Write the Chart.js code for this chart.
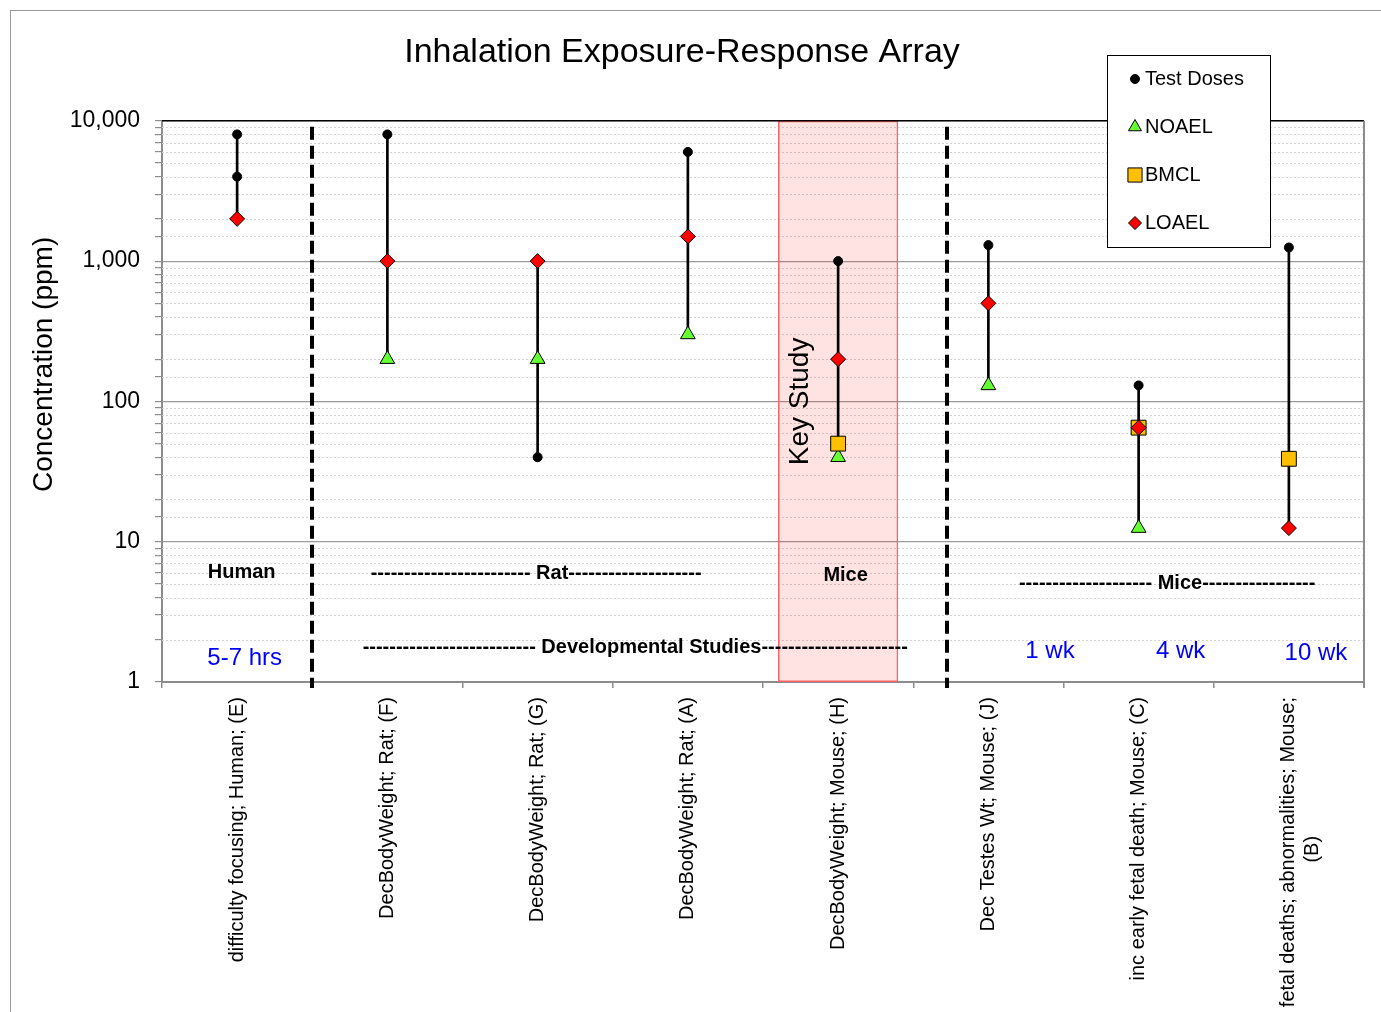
<!DOCTYPE html>
<html><head><meta charset="utf-8">
<script src="https://cdn.jsdelivr.net/npm/chart.js@4"></script>
<style>html,body{margin:0;padding:0;background:#fff;}canvas{display:block;}</style>
</head><body>
<canvas id="c" width="1381" height="1012"></canvas>
<script>
// ---------------- data ----------------
const categories = [
  'difficulty focusing; Human; (E)',
  'DecBodyWeight; Rat; (F)',
  'DecBodyWeight; Rat; (G)',
  'DecBodyWeight; Rat; (A)',
  'DecBodyWeight; Mouse; (H)',
  'Dec Testes Wt; Mouse; (J)',
  'inc early fetal death; Mouse; (C)',
  'fetal deaths; abnormalities; Mouse; (B)'
];
const testDoses = [[8000, 4000], [8000], [40], [6000], [1000], [1300], [130], [1250]];
const noael = [null, 200, 200, 300, 40, 130, 12.5, null];
const bmcl  = [null, null, null, null, 50, null, 65, 39];
const loael = [2000, 1000, 1000, 1500, 200, 500, 65, 12.5];
const keyStudyCategory = 4;
const yTickValues = [1, 10, 100, 1000, 10000];
const seriesNames = ['Test Doses', 'NOAEL', 'BMCL', 'LOAEL'];
const groupNotes = [
  {text: 'Human', x: 0.03, y: 6},
  {text: '------------------------ Rat--------------------', x: 1.99, y: 5.9},
  {text: 'Mice', x: 4.05, y: 5.7},
  {text: '-------------------- Mice-----------------', x: 6.19, y: 5.07},
  {text: '-------------------------- Developmental Studies----------------------', x: 2.65, y: 1.77}
];
const durationNotes = [
  {text: '5-7 hrs', x: 0.05, y: 1.48},
  {text: '1 wk', x: 5.41, y: 1.64},
  {text: '4 wk', x: 6.28, y: 1.66},
  {text: '10 wk', x: 7.18, y: 1.61}
];
const separatorsAt = [0.5, 4.725];

// ---------------- build ----------------
const FONT = "'Liberation Sans', Arial, Helvetica, sans-serif";
const isMajor = v => Math.abs(Math.log10(v) - Math.round(Math.log10(v))) < 1e-9;
const yMin = yTickValues[0], yMax = yTickValues[yTickValues.length - 1];

const ranges = categories.map((c, i) => {
  const vals = [...testDoses[i], noael[i], bmcl[i], loael[i]].filter(v => v != null);
  return [Math.min(...vals), Math.max(...vals)];
});
const keyData = categories.map((c, i) => i === keyStudyCategory ? [yMin, yMax] : null);
const toPts = arr => arr.map((v, i) => v == null ? null : {x: categories[i], y: v}).filter(Boolean);
const testPts = testDoses.flatMap((arr, i) => arr.map(v => ({x: categories[i], y: v})));

const styles = {
  'Test Doses': {pointStyle: 'circle', radius: 4.5, bg: '#000000', border: '#000000', bw: 1},
  'NOAEL': {pointStyle: 'triangle', radius: 8.5, bg: '#66FF33', border: '#000000', bw: 1},
  'BMCL': {pointStyle: 'rect', radius: 10.5, bg: '#FFC000', border: '#000000', bw: 1},
  'LOAEL': {pointStyle: 'rectRot', radius: 7.5, bg: '#FF0000', border: '#000000', bw: 1}
};
const pointDataset = (name, data, order) => ({
  type: 'line', label: name, data, showLine: false, order,
  pointStyle: styles[name].pointStyle, pointRadius: styles[name].radius,
  pointBackgroundColor: styles[name].bg, pointBorderColor: styles[name].border,
  pointBorderWidth: styles[name].bw, pointHoverRadius: styles[name].radius
});

function drawMarker(ctx, style, x, y, r) {
  ctx.beginPath();
  if (style === 'circle') ctx.arc(x, y, r, 0, Math.PI * 2);
  else if (style === 'triangle') {
    ctx.moveTo(x, y - r); ctx.lineTo(x + r * 0.866, y + r * 0.5); ctx.lineTo(x - r * 0.866, y + r * 0.5); ctx.closePath();
  } else if (style === 'rect') { const s = r * Math.SQRT1_2; ctx.rect(x - s, y - s, 2 * s, 2 * s); }
  else if (style === 'rectRot') { ctx.moveTo(x - r, y); ctx.lineTo(x, y + r); ctx.lineTo(x + r, y); ctx.lineTo(x, y - r); ctx.closePath(); }
  ctx.fill(); ctx.stroke();
}

const annotations = {
  id: 'annotations',
  beforeDatasetsDraw(chart) {
    const {ctx, chartArea: a, scales: {y}} = chart;
    ctx.save();
    ctx.strokeStyle = '#d2d2d2'; ctx.lineWidth = 1; ctx.setLineDash([2, 2]);
    y.ticks.forEach(t => {
      if (!isMajor(t.value)) {
        const py = Math.round(y.getPixelForValue(t.value)) + 0.5;
        ctx.beginPath(); ctx.moveTo(a.left, py); ctx.lineTo(a.right, py); ctx.stroke();
      }
    });
    ctx.restore();
  },
  afterDatasetsDraw(chart) {
    const {ctx, chartArea: a, scales: {x, y}} = chart;
    const step = x.getPixelForValue(1) - x.getPixelForValue(0);
    const px = v => x.getPixelForValue(0) + v * step;
    ctx.save();
    // plot borders
    ctx.strokeStyle = '#000'; ctx.lineWidth = 1.5;
    ctx.beginPath(); ctx.moveTo(a.left, a.top); ctx.lineTo(a.right, a.top); ctx.stroke();
    ctx.strokeStyle = '#8c8c8c'; ctx.lineWidth = 2;
    ctx.beginPath(); ctx.moveTo(a.right, a.top); ctx.lineTo(a.right, a.bottom + 6); ctx.stroke();
    // separators
    ctx.strokeStyle = '#000'; ctx.lineWidth = 4; ctx.setLineDash([13, 6]);
    separatorsAt.forEach(s => {
      const sx = Math.round(px(s));
      ctx.beginPath(); ctx.moveTo(sx, a.top + 6); ctx.lineTo(sx, a.bottom + 6); ctx.stroke();
    });
    ctx.setLineDash([]);
    // notes
    ctx.textAlign = 'center'; ctx.textBaseline = 'middle';
    ctx.fillStyle = '#000'; ctx.font = 'bold 20px ' + FONT;
    groupNotes.forEach(n => ctx.fillText(n.text, px(n.x), y.getPixelForValue(n.y)));
    ctx.fillStyle = '#0000FF'; ctx.font = '24px ' + FONT;
    durationNotes.forEach(n => ctx.fillText(n.text, px(n.x), y.getPixelForValue(n.y)));
    // key study label
    ctx.save();
    ctx.translate(px(keyStudyCategory - 0.255), y.getPixelForValue(100));
    ctx.rotate(-Math.PI / 2);
    ctx.fillStyle = '#000'; ctx.font = '28px ' + FONT;
    ctx.fillText('Key Study', 0, 0);
    ctx.restore();
    ctx.restore();
  },
  afterDraw(chart) {
    const {ctx, chartArea: a} = chart;
    ctx.save();
    // outer frame
    ctx.strokeStyle = '#9a9a9a'; ctx.lineWidth = 1;
    ctx.strokeRect(10.5, 10.5, 1400, 1100);
    // y axis title
    ctx.translate(44, (a.top + a.bottom) / 2 - 37);
    ctx.rotate(-Math.PI / 2);
    ctx.fillStyle = '#000'; ctx.font = '28px ' + FONT; ctx.textAlign = 'center'; ctx.textBaseline = 'middle';
    ctx.fillText('Concentration (ppm)', 0, 0);
    ctx.restore();
    // legend
    ctx.save();
    const lx = 1107.5, ly = 55.5, lw = 163, lh = 192;
    ctx.fillStyle = '#fff'; ctx.strokeStyle = '#000'; ctx.lineWidth = 1;
    ctx.fillRect(lx, ly, lw, lh); ctx.strokeRect(lx, ly, lw, lh);
    const legendR = {'Test Doses': 4.5, 'NOAEL': 7.5, 'BMCL': 10, 'LOAEL': 6.5};
    seriesNames.forEach((name, i) => {
      const cy = 79 + i * 48;
      const st = styles[name];
      ctx.fillStyle = st.bg; ctx.strokeStyle = st.border; ctx.lineWidth = 1;
      drawMarker(ctx, st.pointStyle, 1135, cy, legendR[name]);
      ctx.fillStyle = '#000'; ctx.font = '20px ' + FONT; ctx.textAlign = 'left'; ctx.textBaseline = 'middle';
      ctx.fillText(name, 1145, cy);
    });
    ctx.restore();
  }
};

new Chart(document.getElementById('c'), {
  type: 'bar',
  data: {
    labels: categories,
    datasets: [
      {type: 'bar', label: 'Key Study', data: keyData, order: 10, grouped: false,
       backgroundColor: 'rgba(255,0,0,0.11)', borderColor: '#FF6060', borderWidth: 1.5, borderSkipped: false,
       barPercentage: 0.8, categoryPercentage: 1.0},
      {type: 'bar', label: 'Range', data: ranges, order: 5, grouped: false,
       backgroundColor: '#000', borderWidth: 0, barThickness: 2},
      pointDataset('Test Doses', testPts, 4),
      pointDataset('NOAEL', toPts(noael), 3),
      pointDataset('BMCL', toPts(bmcl), 2),
      pointDataset('LOAEL', toPts(loael), 1)
    ]
  },
  options: {
    responsive: false, animation: false,
    layout: {padding: {left: 0, right: 17, top: 0, bottom: 0}},
    plugins: {
      legend: {display: false},
      tooltip: {enabled: false},
      title: {display: true, text: 'Inhalation Exposure-Response Array', color: '#000',
              font: {family: FONT, size: 34, weight: 'normal'}, padding: {top: 32, bottom: 48}}
    },
    scales: {
      x: {
        type: 'category', offset: true,
        grid: {display: true, drawOnChartArea: false, drawTicks: true, tickLength: 6, color: '#8c8c8c', offset: true, lineWidth: 1.5},
        border: {display: true, color: '#8c8c8c', width: 2},
        ticks: {
          autoSkip: false, minRotation: 90, maxRotation: 90, padding: 9, color: '#000',
          font: {family: FONT, size: 20},
          callback(v) {
            const s = categories[v];
            if (s.length > 36) {
              const k = s.lastIndexOf(' ');
              return [s.slice(0, k), s.slice(k + 1) + '\u00A0'.repeat(25)];
            }
            return s;
          }
        },
        afterFit(s) { s.height = 330; }
      },
      y: {
        type: 'logarithmic', min: yMin, max: yMax,
        grid: {
          color: c => (c.tick && isMajor(c.tick.value)) ? '#9a9a9a' : 'rgba(0,0,0,0)',
          tickColor: '#8c8c8c', tickLength: 7, lineWidth: 1.2
        },
        border: {display: true, color: '#8c8c8c', width: 2},
        ticks: {
          autoSkip: false, padding: 15, color: '#000', font: {family: FONT, size: 23},
          callback(v) { return yTickValues.includes(v) ? v.toLocaleString('en-US') : ''; }
        },
        afterFit(s) { s.width = 162; }
      }
    }
  },
  plugins: [annotations]
});
</script>
</body></html>
